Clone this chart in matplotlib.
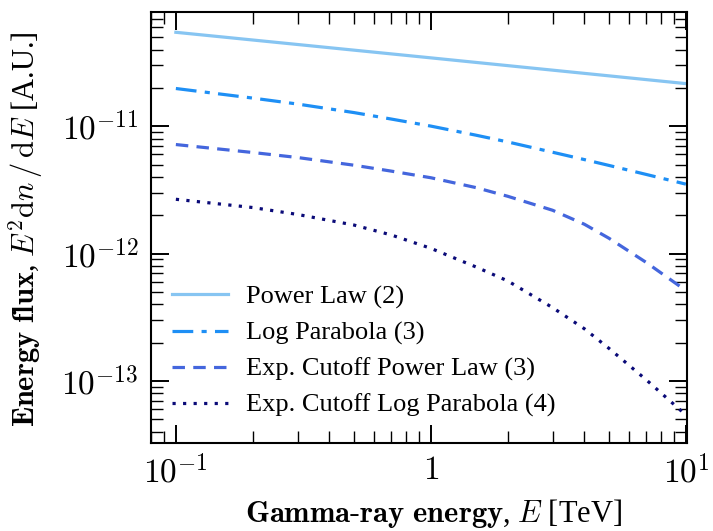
import numpy as np
import matplotlib
matplotlib.use("Agg")
import matplotlib.pyplot as plt

plt.rcParams['font.family'] = 'serif'
plt.rcParams['font.serif'] = ['Liberation Serif', 'DejaVu Serif']
plt.rcParams['mathtext.fontset'] = 'cm'
plt.rcParams['axes.linewidth'] = 1.5

# energies [TeV] and E^2 dN/dE values
e_pl = [0.1, 1.0, 10.0]
f_pl = [5.46e-11, 3.44e-11, 2.16e-11]

e_grid = [0.1, 0.2, 0.3, 0.5, 0.7, 1.0, 1.5, 2.0, 3.0, 4.0, 5.0, 7.0, 10.0]
f_lp = [1.977e-11, 1.663e-11, 1.493e-11, 1.279e-11, 1.138e-11, 1.002e-11,
        8.51e-12, 7.53e-12, 6.25e-12, 5.47e-12, 4.92e-12, 4.18e-12, 3.51e-12]
f_ecpl = [7.18e-12, 6.22e-12, 5.68e-12, 4.94e-12, 4.44e-12, 3.94e-12,
          3.30e-12, 2.82e-12, 2.19e-12, 1.70e-12, 1.318e-12, 8.51e-13, 5.13e-13]
f_eclp = [2.67e-12, 2.30e-12, 2.03e-12, 1.675e-12, 1.40e-12, 1.10e-12,
          7.87e-13, 6.11e-13, 3.77e-13, 2.57e-13, 1.80e-13, 1.02e-13, 5.41e-14]

labels = ['Power Law (2)', 'Log Parabola (3)', 'Exp. Cutoff Power Law (3)',
          'Exp. Cutoff Log Parabola (4)']

fig = plt.figure(figsize=(7.13, 5.31), dpi=100)
ax = fig.add_axes([0.212, 0.166, 0.7515, 0.811])

lw = 2.3
ax.plot(e_pl, f_pl, color='#87c5f2', lw=lw, label=labels[0])
ax.plot(e_grid, f_lp, color='#1e8ff5', lw=lw, linestyle=(0, (6.5, 2.6, 1.6, 2.6)),
        label=labels[1])
ax.plot(e_grid, f_ecpl, color='#4466dd', lw=lw, linestyle=(0, (3.9, 2.6)),
        label=labels[2])
ax.plot(e_grid, f_eclp, color='#0a0a78', lw=lw, linestyle=(0, (1, 2.3)),
        label=labels[3])

ax.set_xscale('log')
ax.set_yscale('log')
ax.set_xlim(0.08, 10.1)
ax.set_ylim(3.27e-14, 7.85e-11)
ax.set_xticks([0.1, 1, 10])
ax.set_xticklabels([r'$10^{-1}$', r'$1$', r'$10^{1}$'])
ax.set_yticks([1e-13, 1e-12, 1e-11])
ax.set_yticklabels([r'$10^{-13}$', r'$10^{-12}$', r'$10^{-11}$'])

ax.tick_params(which='both', direction='in', top=True, right=True)
ax.tick_params(which='major', length=13, width=1.4, labelsize=24, pad=9)
ax.tick_params(which='minor', length=8.5, width=1.0)

ax.set_xlabel(r'$\mathbf{Gamma}$' + r'$\mathbf{\text{-}ray\ energy}$, $E$ [TeV]',
              fontsize=22)
ax.set_ylabel(r'$\mathbf{Energy\ flux}$, $E^2\mathrm{d}n\,/\,\mathrm{d}E$ [A.U.]',
              fontsize=22)
ax.xaxis.set_label_coords(0.528, -0.125)
ax.yaxis.set_label_coords(-0.198, 0.497)

ax.legend(loc='lower left', bbox_to_anchor=(0.02, 0.035), borderaxespad=0,
          frameon=False, fontsize=19, handlelength=2.1, handletextpad=0.68,
          labelspacing=0.46)

plt.savefig('out.png', dpi=100)
